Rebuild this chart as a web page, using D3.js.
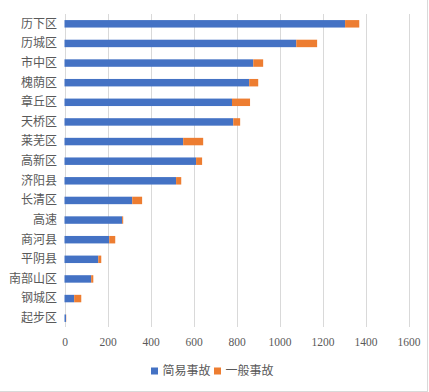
<!DOCTYPE html>
<html><head><meta charset="utf-8">
<script src="https://cdn.jsdelivr.net/npm/d3@7"></script>
<style>body{margin:0;background:#fff}svg{display:block}</style>
</head><body>
<script>
const categories = ["历下区","历城区","市中区","槐荫区","章丘区","天桥区","莱芜区","高新区","济阳县","长清区","高速","商河县","平阴县","南部山区","钢城区","起步区"];
const simpleVals = [1305,1078,878,859,779,785,552,612,519,315,268,208,157,124,45,7];
const generalVals = [66,97,46,42,84,32,93,28,24,46,5,28,14,10,33,1];
const xTicks = [0,200,400,600,800,1000,1200,1400,1600];
const seriesNames = ["简易事故","一般事故"];
const colors = ["#4472C4","#ED7D31"];

const W = 429, H = 392;
const svg = d3.select("body").append("svg").attr("width", W).attr("height", H);

const x = d3.scaleLinear().domain([0,1600]).range([64.5,408.5]);
const y = d3.scaleBand().domain(categories).range([14,328]).paddingInner(0.62).paddingOuter(0.31);

// border (right & bottom)
svg.append("line").attr("x1",427.5).attr("x2",427.5).attr("y1",0).attr("y2",H).attr("stroke","#d9d9d9");
svg.append("line").attr("x1",0).attr("x2",428).attr("y1",391.5).attr("y2",391.5).attr("stroke","#d9d9d9");

// gridlines
svg.append("g").selectAll("line").data(xTicks).join("line")
  .attr("x1", d => Math.round(x(d))+0.5).attr("x2", d => Math.round(x(d))+0.5)
  .attr("y1", 14).attr("y2", 327)
  .attr("stroke", "#d9d9d9").attr("stroke-width", 1);

// x axis labels
const xa = svg.append("g").attr("transform","translate(0,342)")
  .call(d3.axisBottom(x).tickValues(xTicks).tickSize(0).tickPadding(0).tickFormat(d3.format("d")));
xa.select(".domain").remove();
xa.selectAll("text").attr("fill","#595959").attr("dy","0.35em")
  .style("font-family","'Liberation Serif', serif").style("font-size","11.5px");

// y axis labels
const ya = svg.append("g").attr("transform","translate(57,0)")
  .call(d3.axisLeft(y).tickSize(0).tickPadding(0));
ya.select(".domain").remove();
ya.selectAll("text").attr("fill","#595959")
  .style("font-family","'Noto Sans CJK SC', sans-serif").style("font-size","12px");

// stacked bars
const rows = categories.map((c,i) => ({c, a: simpleVals[i], b: generalVals[i]}));
const stack = d3.stack().keys(["a","b"])(rows);
svg.append("g").selectAll("g").data(stack).join("g")
  .attr("fill", (d,i) => colors[i])
  .selectAll("rect").data(d => d).join("rect")
  .attr("x", d => x(d[0]))
  .attr("width", d => Math.max(0, x(d[1]) - x(d[0])))
  .attr("y", d => y(d.data.c))
  .attr("height", y.bandwidth());

// legend
const leg = svg.append("g").attr("transform","translate(0,371)");
const legX = [151, 214];
seriesNames.forEach((n,i) => {
  leg.append("rect").attr("x", legX[i]).attr("y", -3.5).attr("width",7).attr("height",7).attr("fill", colors[i]);
  leg.append("text").attr("x", legX[i]+11.5).attr("y", 0).attr("dy","0.35em")
    .attr("fill","#595959").style("font-family","'Noto Sans CJK SC', sans-serif").style("font-size","12px")
    .text(n);
});
</script>
</body></html>
